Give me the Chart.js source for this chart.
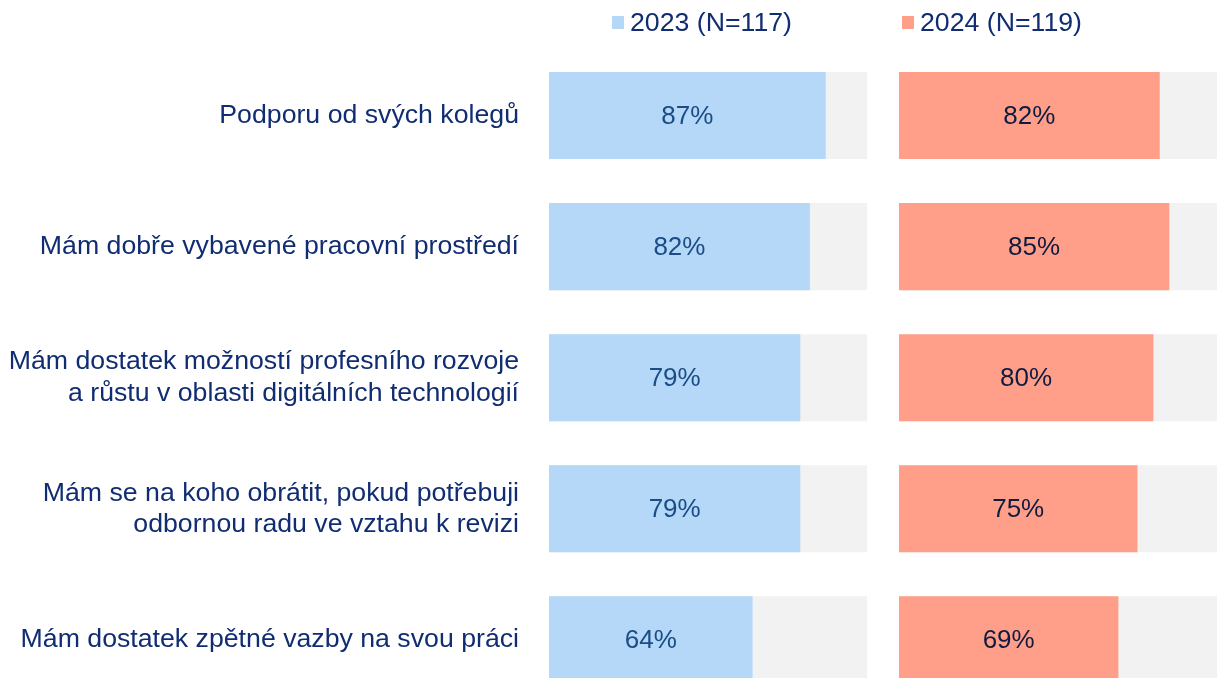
<!DOCTYPE html>
<html>
<head>
  <meta charset="utf-8">
  <title>Podpora a prostředí</title>
  <script src="https://cdn.jsdelivr.net/npm/chart.js@4.4.1/dist/chart.umd.min.js"></script>
  <style>
    html, body { margin: 0; padding: 0; background: #fff; overflow: hidden; }
    #wrap { position: relative; width: 1218px; height: 751px; }
    #legend { position: absolute; top: 6px; left: 0; width: 1218px; height: 34px;
      font-family: "Liberation Sans", Arial, sans-serif; font-size: 26.7px; color: #112D72; }
    .item { position: absolute; top: 0; line-height: 32px; white-space: nowrap; }
    .box { position: absolute; top: 10px; width: 12px; height: 13px; }
    .txt { position: absolute; left: 18px; top: 0; }
  </style>
</head>
<body>
<div id="wrap">
  <canvas id="chart" width="1218" height="751"></canvas>
  <div id="legend"></div>
</div>

<script>
  var labels = [
    'Podporu od svých kolegů',
    'Mám dobře vybavené pracovní prostředí',
    ['Mám dostatek možností profesního rozvoje', 'a růstu v oblasti digitálních technologií'],
    ['Mám se na koho obrátit, pokud potřebuji', 'odbornou radu ve vztahu k revizi'],
    'Mám dostatek zpětné vazby na svou práci'
  ];
  var values2023 = [87, 82, 79, 79, 64];
  var values2024 = [82, 85, 80, 75, 69];
  var full = [100, 100, 100, 100, 100];
  var seriesNames = ['2023 (N=117)', '2024 (N=119)'];
  var colors = ['#B5D7F8', '#FF9F8A'];
  var labelColors = ['#1A4C86', '#0F1C3F'];

  var font = 'Liberation Sans, Arial, sans-serif';
  var navy = '#112D72';

  // legend above the two panels
  var legendPos = [612, 902];
  var legend = document.getElementById('legend');
  seriesNames.forEach(function (name, i) {
    var it = document.createElement('div');
    it.className = 'item';
    it.style.left = legendPos[i] + 'px';
    it.innerHTML = '<span class="box" style="background:' + colors[i] + '"></span><span class="txt">' + name + '</span>';
    legend.appendChild(it);
  });

  // percentage text in the middle of each value bar
  var barText = {
    id: 'barText',
    afterDatasetsDraw: function (chart) {
      var ctx = chart.ctx;
      ctx.save();
      ctx.font = '26px ' + font;
      ctx.textAlign = 'center';
      ctx.textBaseline = 'middle';
      chart.data.datasets.forEach(function (ds, di) {
        if (ds.textColor === undefined) return;
        var meta = chart.getDatasetMeta(di);
        ctx.fillStyle = ds.textColor;
        meta.data.forEach(function (bar, i) {
          ctx.fillText(ds.data[i] + '%', (bar.base + bar.x) / 2, bar.y + 1);
        });
      });
      ctx.restore();
    }
  };

  var common = { grouped: false, barPercentage: 0.664, categoryPercentage: 1, borderWidth: 0 };

  var ctx = document.getElementById('chart').getContext('2d');
  var chart = new Chart(ctx, {
    type: 'bar',
    data: {
      labels: labels,
      datasets: [
        Object.assign({ label: 'bg1', data: full, backgroundColor: '#F2F2F2', xAxisID: 'xL', order: 2 }, common),
        Object.assign({ label: seriesNames[0], data: values2023, backgroundColor: colors[0], xAxisID: 'xL', order: 1, textColor: labelColors[0] }, common),
        Object.assign({ label: 'bg2', data: full, backgroundColor: '#F2F2F2', xAxisID: 'xR', order: 2 }, common),
        Object.assign({ label: seriesNames[1], data: values2024, backgroundColor: colors[1], xAxisID: 'xR', order: 1, textColor: labelColors[1] }, common)
      ]
    },
    options: {
      indexAxis: 'y',
      responsive: false,
      animation: false,
      layout: { padding: { top: 50, bottom: 0, left: 0, right: 1 } },
      plugins: { legend: { display: false }, tooltip: { enabled: false } },
      scales: {
        y: {
          grid: { display: false, drawTicks: false },
          border: { display: false },
          afterFit: function (scale) { scale.width = 549; },
          ticks: {
            padding: 30,
            color: navy,
            font: { family: font, size: 26.7, lineHeight: 1.17 }
          }
        },
        // two value axes side by side; the left one runs to 110 to leave a gap
        xL: { type: 'linear', position: 'bottom', stack: 'panels', stackWeight: 1.1, min: 0, max: 110, display: false },
        xR: { type: 'linear', position: 'bottom', stack: 'panels', stackWeight: 1, min: 0, max: 100, display: false }
      }
    },
    plugins: [barText]
  });
</script>
</body>
</html>
